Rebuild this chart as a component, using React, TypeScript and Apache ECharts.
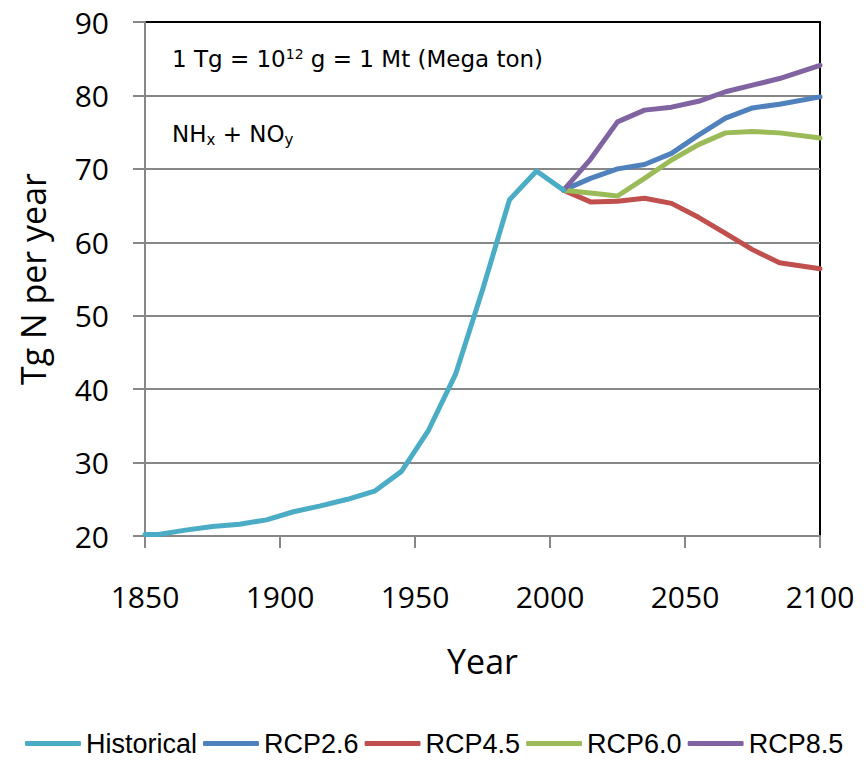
import React, { useEffect, useRef } from "react";
import * as echarts from "echarts";

// Global reactive nitrogen emissions (NHx + NOy), Tg N per year
const historicalYears = [1850, 1855, 1865, 1875, 1885, 1895, 1905, 1915, 1925, 1935, 1945, 1955, 1965, 1975, 1985, 1995, 2005];
const historicalValues = [20.2, 20.2, 20.8, 21.3, 21.6, 22.2, 23.3, 24.1, 25.0, 26.1, 28.8, 34.4, 42.0, 53.5, 65.8, 69.7, 67.1];

const scenarioYears = [2005, 2015, 2025, 2035, 2045, 2055, 2065, 2075, 2085, 2100];
const rcp26 = [67.1, 68.7, 70.0, 70.6, 72.1, 74.6, 76.9, 78.3, 78.8, 79.8];
const rcp45 = [67.1, 65.5, 65.6, 66.0, 65.3, 63.4, 61.2, 59.0, 57.2, 56.4];
const rcp60 = [67.1, 66.7, 66.3, 68.7, 71.2, 73.3, 74.9, 75.1, 74.9, 74.2];
const rcp85 = [67.1, 71.3, 76.4, 78.0, 78.4, 79.2, 80.5, 81.4, 82.3, 84.1];

const seriesNames = ["Historical", "RCP2.6", "RCP4.5", "RCP6.0", "RCP8.5"];
const seriesColors = ["#4BACC6", "#4F81BD", "#C0504D", "#9BBB59", "#8064A2"];

const xTicks = { min: 1850, max: 2100, interval: 50 };
const yTicks = { min: 20, max: 90, interval: 10 };

const pair = (xs: number[], ys: number[]) => xs.map((x, i) => [x, ys[i]]);

export default function App() {
  const ref = useRef<HTMLDivElement>(null);

  useEffect(() => {
    if (!ref.current) return;
    const chart = echarts.init(ref.current, null, { renderer: "svg" });
    const dataSets = [
      pair(historicalYears, historicalValues),
      pair(scenarioYears, rcp26),
      pair(scenarioYears, rcp45),
      pair(scenarioYears, rcp60),
      pair(scenarioYears, rcp85),
    ];
    const axisGray = "#878787";
    const labelFont = "'Open Sans', sans-serif";
    const noteFont = "23px 'DejaVu Sans', sans-serif";

    chart.setOption({
      animation: false,
      backgroundColor: "#ffffff",
      grid: {
        left: 145,
        top: 22,
        right: 46,
        bottom: 228,
        show: true,
        borderColor: "#000000",
        borderWidth: 2,
        backgroundColor: "transparent",
      },
      xAxis: {
        type: "value",
        min: xTicks.min,
        max: xTicks.max,
        interval: xTicks.interval,
        name: "Year",
        nameLocation: "middle",
        nameGap: 108,
        nameTextStyle: { fontFamily: labelFont, fontSize: 34, color: "#000" },
        axisLine: { show: true, lineStyle: { color: axisGray, width: 2 } },
        axisTick: { show: true, inside: false, length: 12, lineStyle: { color: axisGray, width: 2 } },
        axisLabel: {
          margin: 45,
          fontFamily: labelFont,
          fontSize: 30,
          color: "#000",
          formatter: (v: number) => String(v),
        },
        splitLine: { show: false },
      },
      yAxis: {
        type: "value",
        min: yTicks.min,
        max: yTicks.max,
        interval: yTicks.interval,
        name: "Tg N per year",
        nameLocation: "middle",
        nameGap: 95,
        nameTextStyle: { fontFamily: labelFont, fontSize: 34, color: "#000" },
        axisLine: { show: true, lineStyle: { color: axisGray, width: 2 } },
        axisTick: { show: true, inside: false, length: 12, lineStyle: { color: axisGray, width: 2 } },
        axisLabel: { margin: 36, fontFamily: labelFont, fontSize: 30, color: "#000" },
        splitLine: { show: true, showMaxLine: false, lineStyle: { color: axisGray, width: 2 } },
      },
      legend: {
        data: seriesNames,
        left: 20,
        top: 725,
        icon: "roundRect",
        itemWidth: 56,
        itemHeight: 5,
        itemGap: 6,
        textStyle: { fontFamily: "'Liberation Sans', Arial, sans-serif", fontSize: 27, color: "#000" },
      },
      graphic: [
        {
          type: "text",
          left: 172,
          top: 47,
          style: {
            text: "1 Tg = 10{sup|12} g = 1 Mt (Mega ton)",
            font: noteFont,
            fill: "#000",
            rich: {
              sup: { fontSize: 14, verticalAlign: "top", padding: [0, 0, 10, 0], fontFamily: "'DejaVu Sans', sans-serif" },
            },
          },
        },
        {
          type: "text",
          left: 172,
          top: 122,
          style: {
            text: "NH{sub|x} + NO{sub|y}",
            font: noteFont,
            fill: "#000",
            rich: {
              sub: { fontSize: 15, verticalAlign: "bottom", padding: [13, 0, 0, 0], fontFamily: "'DejaVu Sans', sans-serif" },
            },
          },
        },
      ],
      series: dataSets.map((data, i) => ({
        name: seriesNames[i],
        type: "line",
        data,
        symbol: "none",
        showSymbol: false,
        color: seriesColors[i],
        itemStyle: { color: seriesColors[i] },
        lineStyle: { color: seriesColors[i], width: 5, cap: "round", join: "round" },
        z: i === 0 ? 3 : 2,
      })),
    });

    return () => chart.dispose();
  }, []);

  return <div ref={ref} style={{ width: 866, height: 764, margin: -8, display: "block" }} />;
}
